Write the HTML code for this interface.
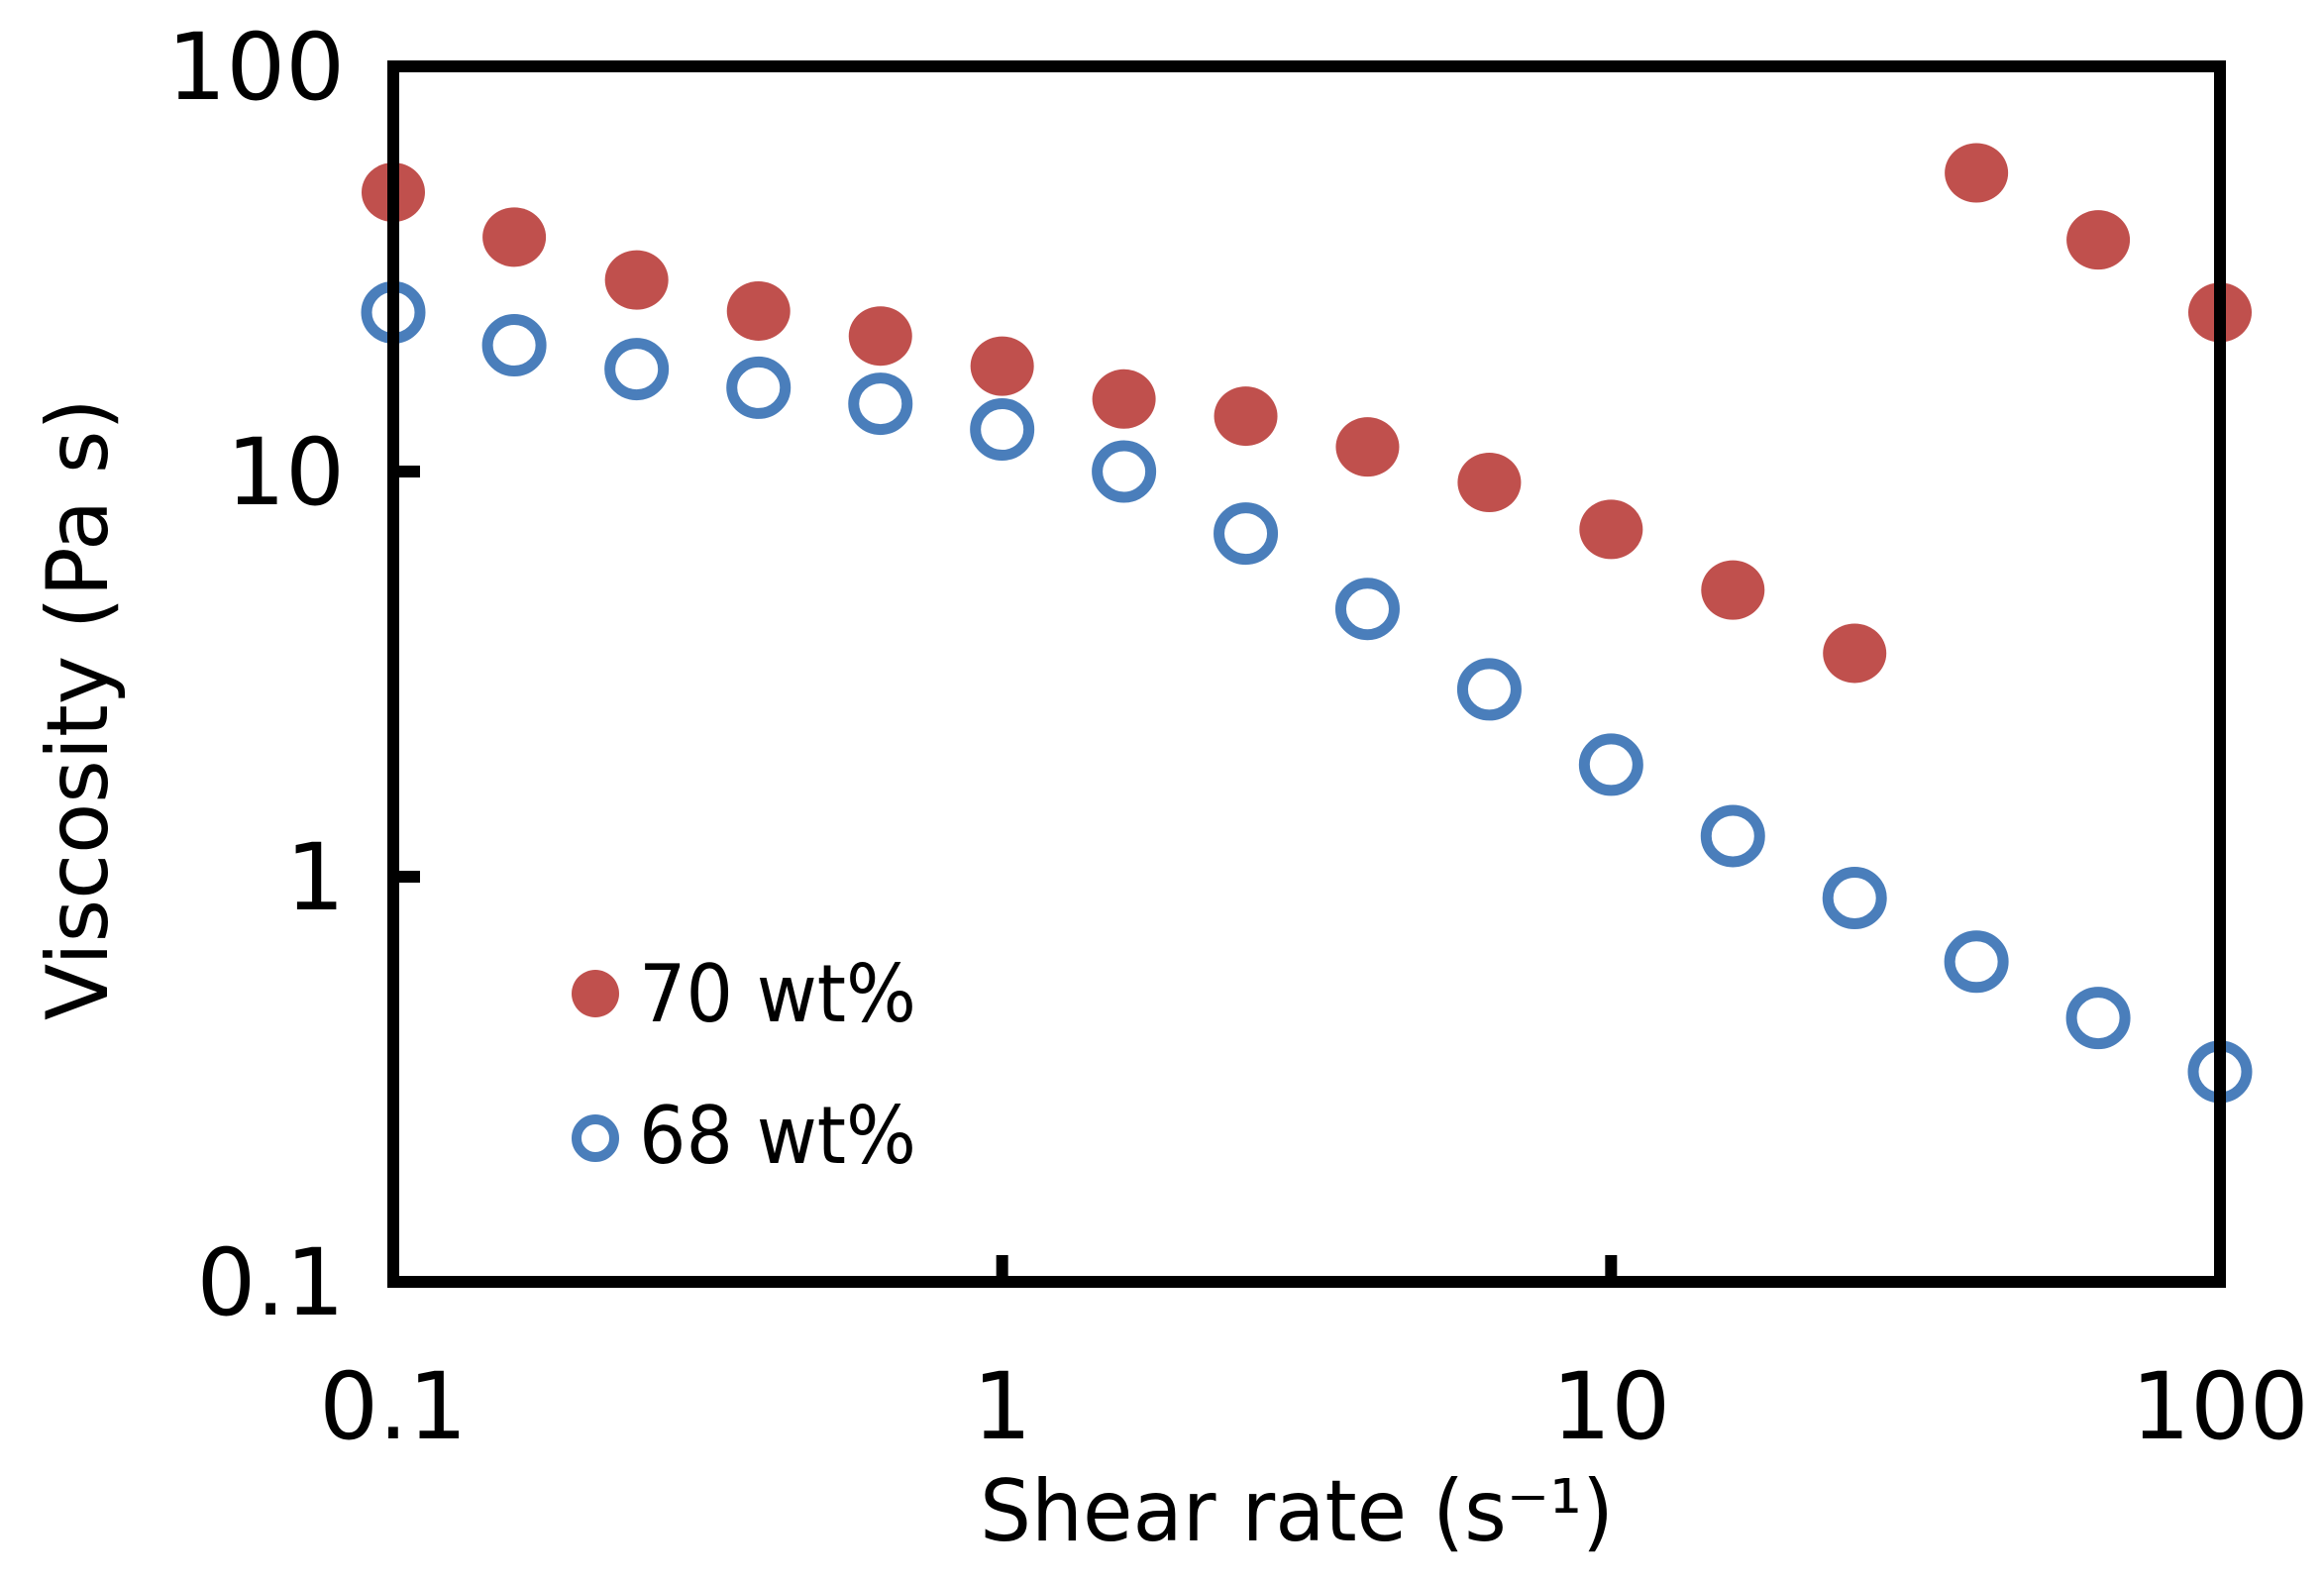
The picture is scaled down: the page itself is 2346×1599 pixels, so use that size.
<!DOCTYPE html>
<html><head><meta charset="utf-8"><style>
html,body{margin:0;padding:0;background:#fff;}
svg{display:block;}
text{font-family:"DejaVu Sans","Liberation Sans",sans-serif;fill:#000;}
</style></head><body>
<svg id="chart" width="2346" height="1599" viewBox="0 0 2346 1599" xmlns="http://www.w3.org/2000/svg">
<rect x="0" y="0" width="2346" height="1599" fill="#fff"/>
<g id="marks"></g>
<g id="axes"></g>
</svg>
<script>
const shearRate = [0.1,0.158,0.251,0.398,0.631,1,1.585,2.512,3.981,6.31,10,15.85,25.12,39.81,63.1,100];
const visc70 = [48.9,37.9,29.7,24.9,21.6,18.2,15.1,13.7,11.5,9.4,7.2,5.1,3.56,54.6,37.3,24.7];
const visc68 = [24.7,20.5,17.9,16.1,14.7,12.7,10.0,7.03,4.58,2.90,1.89,1.26,0.886,0.617,0.448,0.330];
const xTicks = [0.1,1,10,100];
const xTickLabels = ["0.1","1","10","100"];
const yTicks = [0.1,1,10,100];
const yTickLabels = ["0.1","1","10","100"];

const NS="http://www.w3.org/2000/svg";
const L=397,R=2241,T=67,B=1294;
function xs(v){return L+(Math.log10(v)+1)/3*(R-L);}
function ys(v){return B-(Math.log10(v)+1)/3*(B-T);}
function mk(tag,attrs,parent){const e=document.createElementNS(NS,tag);for(const k in attrs)e.setAttribute(k,attrs[k]);parent.appendChild(e);return e;}
const marks=document.getElementById('marks');
const axes=document.getElementById('axes');

const frame=mk('rect',{x:L,y:T,width:R-L,height:B-T,fill:'none',stroke:'#000','stroke-width':12},axes);



yTicks.forEach((v,i)=>{
  const y=ys(v);
  if(i>0&&i<yTicks.length-1){
    const t=mk('line',{x1:L,x2:L+27,y1:y,y2:y,stroke:'#000','stroke-width':12},axes);
    
    
  }
  const lb=mk('text',{x:348,y:y+33,'text-anchor':'end','font-size':94},axes);
  lb.textContent=yTickLabels[i];
  
  
});
xTicks.forEach((v,i)=>{
  const x=xs(v);
  if(i>0&&i<xTicks.length-1){
    const t=mk('line',{x1:x,x2:x,y1:B,y2:B-27,stroke:'#000','stroke-width':12},axes);
    
    
  }
  const lb=mk('text',{x:x,y:1452,'text-anchor':'middle','font-size':94},axes);
  lb.textContent=xTickLabels[i];
  
  
});

const xt=mk('text',{x:1309,y:1555,'text-anchor':'middle','font-size':86,'textLength':640,'lengthAdjust':'spacingAndGlyphs'},axes);
xt.textContent='Shear rate (s\u207B\u00B9)';


const yt=mk('text',{x:0,y:0,'text-anchor':'middle','font-size':86,'textLength':628,'lengthAdjust':'spacingAndGlyphs',transform:'translate(108,716) rotate(-90)'},axes);
yt.textContent='Viscosity (Pa s)';



shearRate.forEach((x,i)=>{
  const c=mk('ellipse',{cx:xs(x),cy:ys(visc70[i]),rx:32,ry:30,fill:'#C0504D'},marks);
  
  
});
shearRate.forEach((x,i)=>{
  const c=mk('ellipse',{cx:xs(x),cy:ys(visc68[i]),rx:27,ry:26,fill:'none',stroke:'#4A7EBB','stroke-width':11},marks);
  
  
});

const l1=mk('circle',{cx:601,cy:1003,r:24,fill:'#C0504D'},axes);


const t1=mk('text',{x:645,y:1031,'font-size':80,'textLength':280,'lengthAdjust':'spacingAndGlyphs'},axes);
t1.textContent='70 wt%';


const l2=mk('circle',{cx:601,cy:1149,r:19,fill:'none',stroke:'#4A7EBB','stroke-width':10},axes);


const t2=mk('text',{x:645,y:1174,'font-size':80,'textLength':280,'lengthAdjust':'spacingAndGlyphs'},axes);
t2.textContent='68 wt%';


</script>
</body></html>
